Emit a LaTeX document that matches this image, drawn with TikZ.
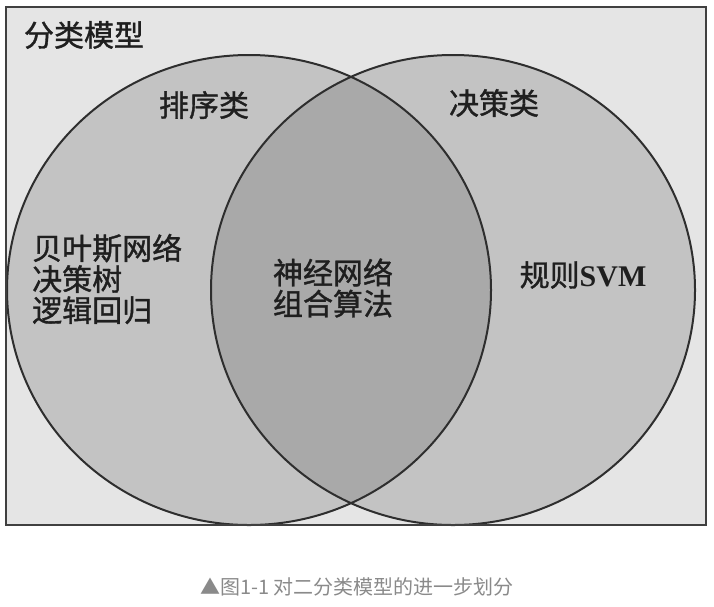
\documentclass[tikz,border=0pt]{standalone}
\usepackage{fontspec}
\newfontfamily\cjk[FakeBold=1.2]{Noto Sans CJK SC}
\newfontfamily\cjkcap{Noto Sans CJK SC}
\newfontfamily\svmfont{Liberation Serif}
\definecolor{framegray}{HTML}{E5E5E5}
\definecolor{setgray}{HTML}{C3C3C3}
\definecolor{lensgray}{HTML}{A9A9A9}
\definecolor{inkgray}{HTML}{2E2E2E}
\definecolor{capgray}{HTML}{8A8A8A}
\begin{document}
\begin{tikzpicture}[x=1pt, y=-1pt, every node/.style={font=\cjk\fontsize{30}{31}\selectfont, text=black!88, inner sep=0pt},
  setline/.style={draw=inkgray, line width=2pt},
  lst/.style={align=left, anchor=west}]
\useasboundingbox[fill=white] (0,0) rectangle (714,606);
\fill[framegray] (6,7) rectangle (706,525);
\fill[setgray] (249,290) ellipse [x radius=242pt, y radius=235pt];
\fill[setgray] (453,290) ellipse [x radius=242pt, y radius=235pt];
\begin{scope}
  \clip (249,290) ellipse [x radius=242pt, y radius=235pt];
  \fill[lensgray] (453,290) ellipse [x radius=242pt, y radius=235pt];
\end{scope}
\draw[setline] (249,290) ellipse [x radius=242pt, y radius=235pt];
\draw[setline] (453,290) ellipse [x radius=242pt, y radius=235pt];
\draw[draw=black!75, line width=2.4pt] (6,7) rectangle (706,525);
% labels
\node (model) at (84,35) {分类模型};
\node (rank) at (204,105) {排序类};
\node (decide) at (494,103) {决策类};
\node[lst] (ranklist) at (32,279) {贝叶斯网络\\决策树\\逻辑回归};
\node[align=center] (both) at (333,288) {神经网络\\组合算法};
\node (rules) at (583,275) {规则{\svmfont\bfseries SVM}};
\node[font=\cjkcap\fontsize{20}{21}\selectfont, text=capgray] (caption) at (357,587) {▲图1-1 对二分类模型的进一步划分};
\end{tikzpicture}
\end{document}
